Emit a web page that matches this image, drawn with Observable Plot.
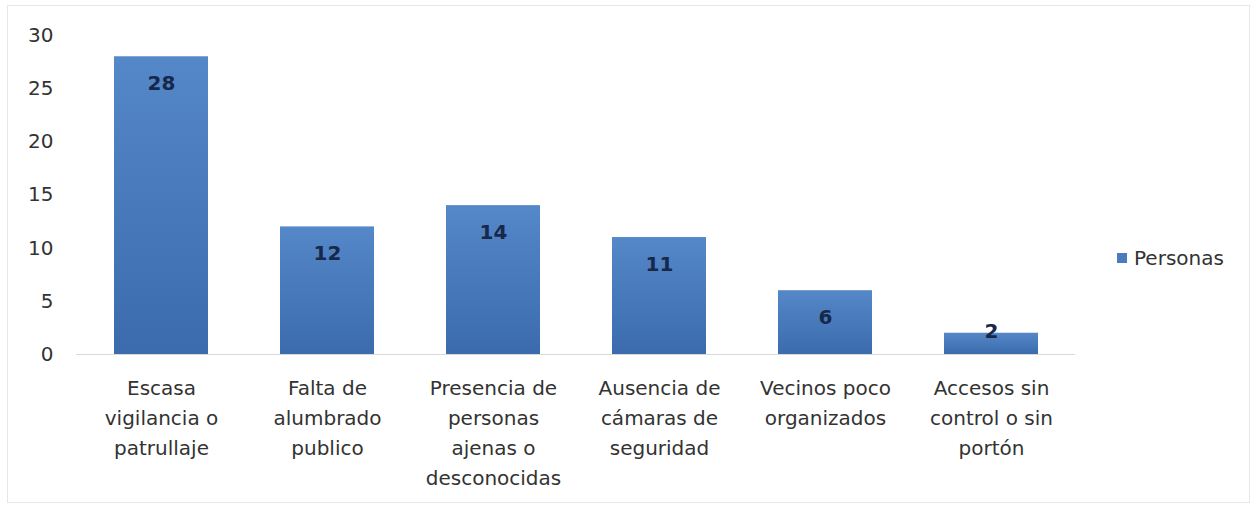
<!DOCTYPE html>
<html>
<head>
<meta charset="utf-8">
<script src="https://cdn.jsdelivr.net/npm/d3@7"></script>
<script src="https://cdn.jsdelivr.net/npm/@observablehq/plot@0.6"></script>
<style>
  html, body { margin: 0; padding: 0; background: #fff; }
  #wrap { position: relative; width: 1259px; height: 508px; overflow: hidden; }
  #border { position: absolute; left: 7px; top: 5px; width: 1243px; height: 498px; border: 1px solid #e3e8ef; box-sizing: border-box; }
  #legend { position: absolute; left: 1117px; top: 246px; font: 20px "DejaVu Sans", Verdana, sans-serif; color: #333; display: flex; align-items: center; }
  #legend .sw { width: 10px; height: 10px; background: #4a7cbd; margin-right: 7px; }
  svg { position: absolute; left: 0; top: 0; }
</style>
</head>
<body>
<div id="wrap">
  <div id="border"></div>
  <div id="legend"><span class="sw"></span><span>Personas</span></div>
</div>
<script>
const categories = [
  "Escasa\nvigilancia o\npatrullaje",
  "Falta de\nalumbrado\npublico",
  "Presencia de\npersonas\najenas o\ndesconocidas",
  "Ausencia de\ncámaras de\nseguridad",
  "Vecinos poco\norganizados",
  "Accesos sin\ncontrol o sin\nportón"
];
const personas = [28, 12, 14, 11, 6, 2];
const yTicks = [0, 5, 10, 15, 20, 25, 30];

const data = categories.map((c, i) => ({category: c, value: personas[i]}));

const chart = Plot.plot({
  width: 1259,
  height: 508,
  marginLeft: 76,
  marginRight: 184,
  marginTop: 35,
  marginBottom: 154,
  style: {fontFamily: "'DejaVu Sans', Verdana, sans-serif", background: "transparent", color: "#333"},
  x: {domain: categories, paddingInner: 0.435, paddingOuter: 0.2175, label: null},
  y: {domain: [0, 30], label: null},
  marks: [
    () => {
      const ns = "http://www.w3.org/2000/svg";
      const defs = document.createElementNS(ns, "defs");
      defs.innerHTML = `<linearGradient id="barGrad" x1="0" y1="0" x2="0" y2="1">
        <stop offset="0%" stop-color="#5588c8"/>
        <stop offset="100%" stop-color="#3b6bad"/>
      </linearGradient>`;
      return defs;
    },
    Plot.gridY(yTicks, {stroke: "#d9d9d9", strokeOpacity: 1, x1: 70, x2: 1075}),
    Plot.axisY({ticks: yTicks, tickSize: 0, tickPadding: 23, fontSize: 20, label: null, textStroke: "none"}),
    Plot.barY(data, {x: "category", y: "value", fill: "url(#barGrad)"}),
    Plot.ruleY([0], {stroke: "#d9d9d9"}),
    Plot.axisX({tickSize: 0, tickPadding: 19, fontSize: 20, lineHeight: 1.5, label: null}),
    Plot.text(data.filter(d => d.value > 3), {x: "category", y: "value", text: d => String(d.value), dy: 27, fontSize: 20, fill: "#17284a", fontWeight: "bold"}),
    Plot.text(data.filter(d => d.value <= 3), {x: "category", y: "value", text: d => String(d.value), dy: -2, fontSize: 20, fill: "#17284a", fontWeight: "bold"})
  ]
});
document.getElementById("wrap").appendChild(chart);
</script>
</body>
</html>
